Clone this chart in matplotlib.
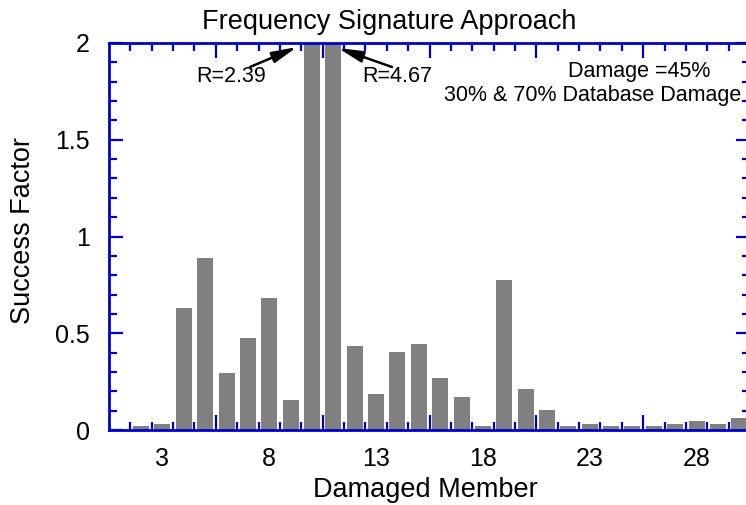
import matplotlib
matplotlib.use("Agg")
import matplotlib.pyplot as plt
import numpy as np

plt.rcParams['font.family'] = ['Liberation Sans', 'DejaVu Sans']

# Success factor per damaged member (members 2..30)
members = list(range(2, 31))
success = [0.02, 0.03, 0.63, 0.89, 0.295, 0.475, 0.68, 0.155, 2.39, 4.67,
           0.434, 0.186, 0.403, 0.444, 0.269, 0.17, 0.02, 0.775, 0.212, 0.103,
           0.02, 0.03, 0.02, 0.02, 0.02, 0.03, 0.047, 0.03, 0.062]

tick_members = [3, 8, 13, 18, 23, 28]
tick_labels = ["3", "8", "13", "18", "23", "28"]
y_ticks = [0, 0.5, 1, 1.5, 2]
y_labels = ["0", "0.5", "1", "1.5", "2"]

BLUE = "#0000cc"
W, H = 746, 505
fig = plt.figure(figsize=(W / 100, H / 100), dpi=100)

# axes box in pixels: left 109, right 750, top 43, bottom 430
ax = fig.add_axes([109 / W, (H - 430) / H, 641 / W, 387 / H])

ax.bar(members, success, width=0.75, color="#808080", edgecolor="none", zorder=2)

ax.set_xlim(0.5, 30.5)
ax.set_ylim(0, 2)

for s in ax.spines.values():
    s.set_color(BLUE)
    s.set_linewidth(2.0)
    s.set_zorder(5)

# x ticks: short ticks between every member, long ones every five
ax.set_xticks(np.arange(5.5, 30.0, 5.0))
ax.set_xticks(np.arange(1.5, 30.5, 1.0), minor=True)
ax.tick_params(axis="x", which="both", direction="in", top=True, bottom=True,
               labelbottom=False, color=BLUE, width=1.6)
ax.tick_params(axis="x", which="major", length=11)
ax.tick_params(axis="x", which="minor", length=6)

# member labels
sec = ax.secondary_xaxis("bottom")
sec.set_xticks(tick_members, labels=tick_labels)
sec.tick_params(length=0, pad=12, labelsize=18)
sec.spines["bottom"].set_visible(False)

# y ticks
ax.set_yticks(y_ticks, labels=y_labels)
ax.set_yticks(np.arange(0, 2.001, 0.1), minor=True)
ax.tick_params(axis="y", which="both", direction="in", left=True, right=True,
               color=BLUE, width=1.6, labelsize=18)
ax.tick_params(axis="y", which="major", length=10, pad=14)
ax.tick_params(axis="y", which="minor", length=6)

# peak annotations for the clipped bars
arrow = dict(arrowstyle="-|>,head_length=0.75,head_width=0.17", color="black",
             lw=1.8, mutation_scale=20, shrinkA=0, shrinkB=0)
ax.annotate("", xy=(9.30, 1.979), xytext=(7.10, 1.876), arrowprops=arrow)
ax.annotate("", xy=(11.22, 1.974), xytext=(13.74, 1.876), arrowprops=arrow)
ax.text(6.21, 1.826, "R=2.39", ha="center", va="center", fontsize=15.5)
ax.text(14.0, 1.826, "R=4.67", ha="center", va="center", fontsize=15.5)

ax.text(25.3, 1.855, "Damage =45%", ha="center", va="center", fontsize=15.5)
ax.text(23.15, 1.731, "30% & 70% Database Damage", ha="center", va="center",
        fontsize=15.5)

fig.text(389 / W, 1 - 22 / H, "Frequency Signature Approach",
         ha="center", va="center", fontsize=19.5)
fig.text(425 / W, 1 - 490 / H, "Damaged Member",
         ha="center", va="center", fontsize=19.5)
fig.text(23 / W, 1 - 231 / H, "Success Factor", rotation=90,
         ha="center", va="center", fontsize=19.5)

fig.savefig("out.png", dpi=100)
